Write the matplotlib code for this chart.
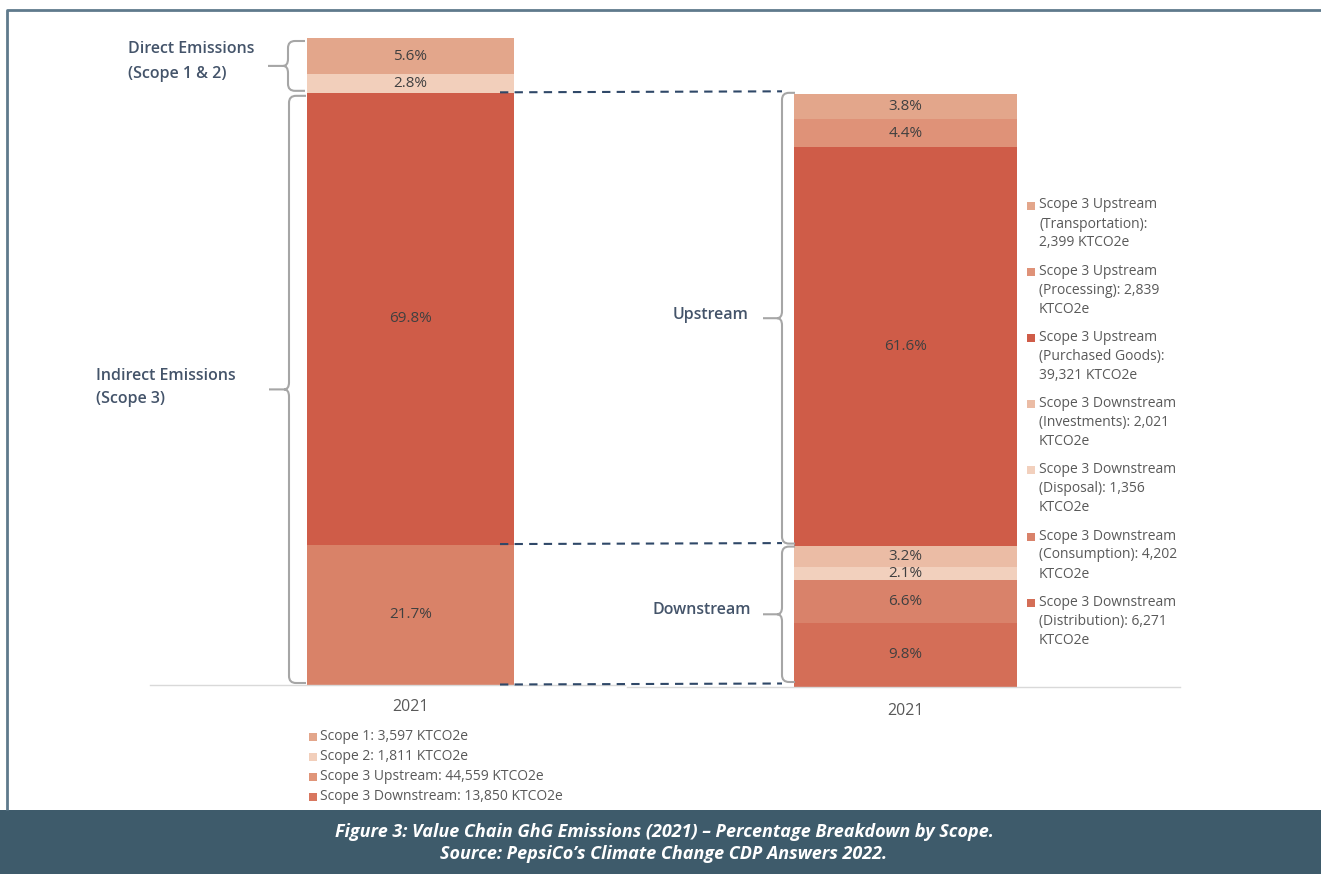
import matplotlib
matplotlib.use("Agg")
import matplotlib.pyplot as plt
from matplotlib.path import Path
from matplotlib.patches import PathPatch, Rectangle

plt.rcParams['font.family'] = ['Open Sans', 'DejaVu Sans']

# ---------------- data ----------------
category = ['2021']

# Left bar (bottom -> top), KTCO2e
left_names = ['Scope 3 Downstream', 'Scope 3 Upstream', 'Scope 2', 'Scope 1']
left_values = [13850, 44559, 1811, 3597]
left_colors = ['#d98268', '#cf5c48', '#f2cfbb', '#e3a68b']

# Right bar (bottom -> top), KTCO2e
right_names = ['Scope 3 Downstream\n(Distribution): 6,271\nKTCO2e',
               'Scope 3 Downstream\n(Consumption): 4,202\nKTCO2e',
               'Scope 3 Downstream\n(Disposal): 1,356\nKTCO2e',
               'Scope 3 Downstream\n(Investments): 2,021\nKTCO2e',
               'Scope 3 Upstream\n(Purchased Goods):\n39,321 KTCO2e',
               'Scope 3 Upstream\n(Processing): 2,839\nKTCO2e',
               'Scope 3 Upstream\n(Transportation):\n2,399 KTCO2e']
right_values = [6271, 4202, 1356, 2021, 39321, 2839, 2399]
right_colors = ['#d46e57', '#d9826a', '#f2d0bd', '#ebbca5', '#cf5c48', '#df9278', '#e3a68b']

left_legend_labels = ['Scope 1: 3,597 KTCO2e', 'Scope 2: 1,811 KTCO2e',
                      'Scope 3 Upstream: 44,559 KTCO2e', 'Scope 3 Downstream: 13,850 KTCO2e']
left_legend_colors = ['#e3a68b', '#f2cfbb', '#e09579', '#d8775f']

total = sum(left_values)
left_pct = [v / total * 100 for v in left_values]
right_pct = [v / total * 100 for v in right_values]

W, H = 1321, 874
fig = plt.figure(figsize=(W / 100, H / 100), dpi=100)
fig.patch.set_facecolor('white')

def fa(x0, y0, x1, y1):
    # pixel box (top-left origin) -> figure fraction rect
    return [x0 / W, 1 - y1 / H, (x1 - x0) / W, (y1 - y0) / H]

TXT = '#404040'
LBL = '#44546a'

def style(ax, pad):
    ax.set_ylim(0, 100)
    for s in ['top', 'right', 'left']:
        ax.spines[s].set_visible(False)
    ax.spines['bottom'].set_color('#d9d9d9')
    ax.spines['bottom'].set_linewidth(1)
    ax.set_yticks([])
    ax.set_xticks([0])
    ax.set_xticklabels(category, fontsize=11.5, color='#595959')
    ax.tick_params(axis='x', length=0, pad=pad)
    ax.patch.set_alpha(0)

# left axes
axL = fig.add_axes(fa(150, 38, 625, 685))
axL.set_xlim(-260.5, 214.5)
bottom = 0
for v, c in zip(left_pct, left_colors):
    axL.bar(0, v, width=207, bottom=bottom, color=c, linewidth=0)
    axL.text(0, bottom + v / 2, f'{v:.1f}%', ha='center', va='center',
             fontsize=11, color=TXT)
    bottom += v
style(axL, 10)

# right axes
axR = fig.add_axes(fa(627, 39.5, 1180, 686.5))
axR.set_xlim(-278.5, 274.5)
bottom = 0
for v, c in zip(right_pct, right_colors):
    axR.bar(0, v, width=223, bottom=bottom, color=c, linewidth=0)
    axR.text(0, bottom + v / 2, f'{v:.1f}%', ha='center', va='center',
             fontsize=11, color=TXT)
    bottom += v
style(axR, 12)

# overlay in pixel coords
ov = fig.add_axes([0, 0, 1, 1])
ov.set_xlim(0, W)
ov.set_ylim(H, 0)
ov.axis('off')
ov.patch.set_alpha(0)

def px(ax, x, y):
    return ov.transData.inverted().transform(ax.transData.transform((x, y)))

# frame
ov.plot([7, 7, W], [810, 10, 10], color='#5f7a8c', lw=2, solid_capstyle='butt')
# caption banner
ov.add_patch(Rectangle((0, 810), W, H - 810, color='#3e5b6b', lw=0))
ov.text(664, 832, 'Figure 3: Value Chain GhG Emissions (2021) \u2013 Percentage Breakdown by Scope.',
        ha='center', va='center', color='white', fontsize=13, style='italic',
        weight='bold')
ov.text(664, 854, 'Source: PepsiCo\u2019s Climate Change CDP Answers 2022.',
        ha='center', va='center', color='white', fontsize=13, style='italic',
        weight='bold')

# braces
def brace(x_v, y0, y1, x_arm, x_tip):
    r = 7
    ym = (y0 + y1) / 2
    tipx = x_v - 5
    verts = [(x_arm, y0), (x_v + r, y0), (x_v, y0), (x_v, y0 + r),
             (x_v, ym - r), (x_v, ym), (tipx, ym), (x_tip, ym),
             (tipx, ym), (x_v, ym), (x_v, ym + r),
             (x_v, y1 - r), (x_v, y1), (x_v + r, y1), (x_arm, y1)]
    codes = [Path.MOVETO, Path.LINETO, Path.CURVE3, Path.CURVE3,
             Path.LINETO, Path.CURVE3, Path.CURVE3, Path.LINETO,
             Path.MOVETO, Path.CURVE3, Path.CURVE3,
             Path.LINETO, Path.CURVE3, Path.CURVE3, Path.LINETO]
    ov.add_patch(PathPatch(Path(verts, codes), fill=False, edgecolor='#a6a6a6', lw=1.5))
    return ym

cumL = [sum(left_pct[:i + 1]) for i in range(len(left_pct))]
scope3_top = cumL[1]
down_top = cumL[0]

y_100 = px(axL, 0, 100)[1]
y_s3 = px(axL, 0, scope3_top)[1]
y_0 = px(axL, 0, 0)[1]
y_dn = px(axL, 0, down_top)[1]

ym1 = brace(288, y_100 + 3, y_s3 - 2, 305, 268)
ym2 = brace(289, y_s3 + 3, y_0 - 2, 306, 269)
ym3 = brace(782, y_s3, y_dn - 1, 795, 763)
ym4 = brace(782, y_dn + 2, y_0 - 3, 795, 763)

lab_kw = dict(fontsize=11.5, color=LBL, weight='semibold')
ov.text(128, ym1 - 4, 'Direct Emissions\n(Scope 1 & 2)', ha='left', va='center',
        linespacing=1.75, **lab_kw)
ov.text(96, ym2 - 2, 'Indirect Emissions\n(Scope 3)', ha='left', va='center',
        linespacing=1.55, **lab_kw)
ov.text(749, ym3 - 3, 'Upstream', ha='right', va='center', **lab_kw)
ov.text(751, ym4 - 4, 'Downstream', ha='right', va='center', **lab_kw)

# dashed connectors
xl = px(axL, 207 / 2, 0)[0] - 14
xr = px(axR, -223 / 2, 0)[0] - 12
for yv in [scope3_top, down_top, 0]:
    yy = px(axL, 0, yv)[1]
    ov.plot([xl, xr], [yy - 0.5, yy - 1.5], color='#2f4868', lw=1.5,
            dashes=(4, 3))

# left legend
for i, (lab, c) in enumerate(zip(left_legend_labels, left_legend_colors)):
    y = 736 + i * 20
    ov.add_patch(Rectangle((309, y - 3.5), 8, 8, color=c, lw=0))
    ov.text(320, y, lab, ha='left', va='center', fontsize=10, color='#595959')

# right legend (top -> bottom)
for i, (lab, c) in enumerate(zip(right_names[::-1], right_colors[::-1])):
    y = 205 + i * 66.2
    ov.add_patch(Rectangle((1027, y - 3.5), 8, 8, color=c, lw=0))
    for j, line in enumerate(lab.split('\n')):
        ov.text(1039, y + j * 19, line, ha='left', va='center', fontsize=10,
                color='#595959')

fig.savefig('out.png', dpi=100)
